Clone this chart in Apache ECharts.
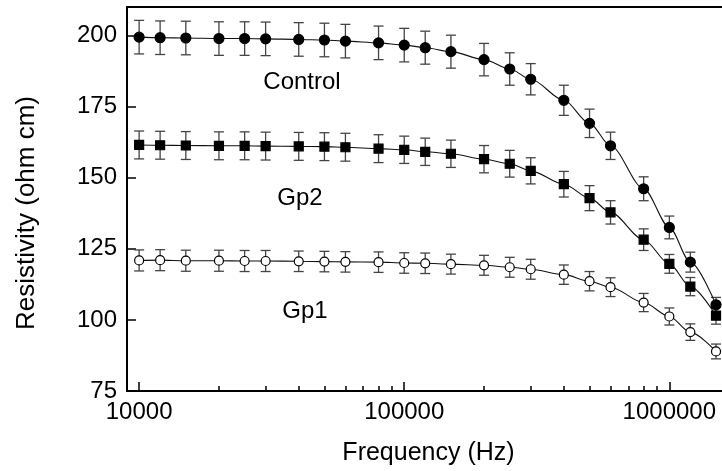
<!DOCTYPE html>
<html>
<head>
<meta charset="utf-8">
<script src="https://cdn.jsdelivr.net/npm/echarts@6/dist/echarts.min.js"></script>
<style>
  html,body{margin:0;padding:0;background:#fff;}
  #chart{width:722px;height:471px;}
</style>
</head>
<body>
<div id="chart"></div>
<script>
// frequency (Hz) of each measurement
var freq=[10000,12000,15000,20000,25000,30000,40000,50000,60000,80000,100000,120000,150000,200000,250000,300000,400000,500000,600000,800000,1000000,1200000,1500000];

// resistivity (ohm cm) and error bar half-heights
var control=[199.4,199.2,199.1,198.9,198.9,198.8,198.6,198.4,198.0,197.4,196.6,195.7,194.3,191.5,188.2,184.6,177.2,169.1,161.2,146.1,132.5,120.3,105.3];
var controlErr=[5.9,5.9,5.9,5.9,5.9,5.9,5.9,5.9,5.9,5.9,5.9,5.8,5.8,5.7,5.7,5.5,5.3,5.0,4.8,4.2,4.0,3.5,2.6];
var gp2=[161.5,161.4,161.3,161.2,161.2,161.1,161.0,160.9,160.7,160.2,159.8,159.1,158.4,156.5,154.9,152.4,147.7,142.8,137.8,128.2,119.7,111.7,101.5];
var gp2Err=[4.9,4.9,4.9,4.9,4.9,4.9,4.9,4.9,4.9,4.9,4.8,4.8,4.8,4.8,4.7,4.6,4.5,4.4,4.1,3.8,3.3,3.2,3.0];
var gp1=[120.9,121.0,120.8,120.8,120.7,120.7,120.6,120.5,120.4,120.3,120.0,119.9,119.6,119.2,118.5,117.8,115.9,113.6,111.5,106.1,101.2,95.7,88.9];
var gp1Err=[3.7,3.7,3.7,3.7,3.7,3.7,3.6,3.6,3.6,3.6,3.6,3.6,3.5,3.5,3.5,3.5,3.4,3.4,3.3,3.2,3.0,2.9,2.6];

// axis ticks
var xMajor=[10000,100000,1000000];
var xMinor=[20000,30000,40000,50000,60000,70000,80000,90000,200000,300000,400000,500000,600000,700000,800000,900000];
var yTicks=[75,100,125,150,175,200];
// the plot is cut off at the right edge of the picture
var xMin=9000, xMax=1580000;

var FONT='"Liberation Sans", Arial, sans-serif';
var lg=function(v){return Math.log10(v);};

var chart=echarts.init(document.getElementById("chart"));

function points(vals){
  return freq.map((f,i)=>[lg(f),vals[i]]);
}
function bars(vals,errs){
  return freq.map((f,i)=>[lg(f),vals[i]-errs[i],vals[i]+errs[i]]);
}

//error bars: stem plus two caps
function errorBar(params,api){
  var x=api.value(0);
  var top=api.coord([x,api.value(2)]);
  var bot=api.coord([x,api.value(1)]);
  var w=5;
  var st={stroke:'#444',lineWidth:1.3};
  return {type:'group',children:[
    {type:'line',shape:{x1:top[0],y1:top[1],x2:bot[0],y2:bot[1]},style:st},
    {type:'line',shape:{x1:top[0]-w,y1:top[1],x2:top[0]+w,y2:top[1]},style:st},
    {type:'line',shape:{x1:bot[0]-w,y1:bot[1],x2:bot[0]+w,y2:bot[1]},style:st}
  ]};
}

function lineSeries(name,vals,symbol,size,fill){
  return {
    name:name,
    type:'line',
    data:points(vals),
    smooth:0.3,
    smoothMonotone:'x',
    symbol:symbol,
    symbolSize:size,
    showAllSymbol:true,
    clip:false,
    z:3,
    lineStyle:{color:'#111',width:1.1},
    itemStyle:{color:fill,borderColor:'#000',borderWidth:1.2}
  };
}
function barSeries(vals,errs){
  return {
    type:'custom',
    renderItem:errorBar,
    data:bars(vals,errs),
    encode:{x:0,y:[1,2]},
    clip:false,
    silent:true,
    z:2
  };
}

var chartoptions={
  animation:false,
  grid:{left:127,top:7,right:0,bottom:79},
  xAxis:[
    {
      type:'value',
      min:lg(xMin),
      max:lg(xMax),
      name:'Frequency (Hz)',
      nameLocation:'middle',
      nameGap:50,
      nameTextStyle:{fontSize:25,color:'#000',fontFamily:FONT,padding:[0,0,0,8]},
      axisLine:{show:true,lineStyle:{color:'#000',width:2}},
      axisTick:{show:true,inside:true,length:9,customValues:xMajor.map(lg),lineStyle:{color:'#000',width:1.5}},
      axisLabel:{show:true,margin:9,fontSize:24,color:'#000',fontFamily:FONT,customValues:xMajor.map(lg),
        formatter:(v)=>String(Math.round(Math.pow(10,v)))},
      splitLine:{show:false}
    },
    {
      type:'value',
      min:lg(xMin),
      max:lg(xMax),
      position:'bottom',
      axisLine:{show:false},
      axisTick:{show:true,inside:true,length:5,customValues:xMinor.map(lg),lineStyle:{color:'#000',width:1.5}},
      axisLabel:{show:false},
      splitLine:{show:false}
    },
    {
      //top frame line
      type:'value',
      min:lg(xMin),
      max:lg(xMax),
      position:'top',
      axisLine:{show:true,lineStyle:{color:'#000',width:2}},
      axisTick:{show:false},
      axisLabel:{show:false},
      splitLine:{show:false}
    }
  ],
  yAxis:[
    {
      type:'value',
      min:75,
      max:210,
      axisLine:{show:true,lineStyle:{color:'#000',width:2}},
      axisTick:{show:true,inside:true,length:9,customValues:yTicks,lineStyle:{color:'#000',width:1.5}},
      axisLabel:{show:true,margin:10,fontSize:24,color:'#000',fontFamily:FONT,customValues:yTicks},
      splitLine:{show:false}
    }
  ],
  graphic:[
    {type:'text',x:27,y:213,rotation:Math.PI/2,style:{text:'Resistivity (ohm cm)',fontSize:26,fontFamily:FONT,fill:'#000',align:'center',verticalAlign:'middle'}},
    {type:'text',x:302,y:82,style:{text:'Control',fontSize:24,fontFamily:FONT,fill:'#000',align:'center',verticalAlign:'middle'}},
    {type:'text',x:300,y:198,style:{text:'Gp2',fontSize:24,fontFamily:FONT,fill:'#000',align:'center',verticalAlign:'middle'}},
    {type:'text',x:305,y:311,style:{text:'Gp1',fontSize:24,fontFamily:FONT,fill:'#000',align:'center',verticalAlign:'middle'}}
  ],
  series:[
    barSeries(control,controlErr),
    barSeries(gp2,gp2Err),
    barSeries(gp1,gp1Err),
    lineSeries('Control',control,'circle',10,'#000'),
    lineSeries('Gp2',gp2,'rect',9,'#000'),
    lineSeries('Gp1',gp1,'circle',9,'#fff')
  ]
};
chart.setOption(chartoptions);
</script>
</body>
</html>
